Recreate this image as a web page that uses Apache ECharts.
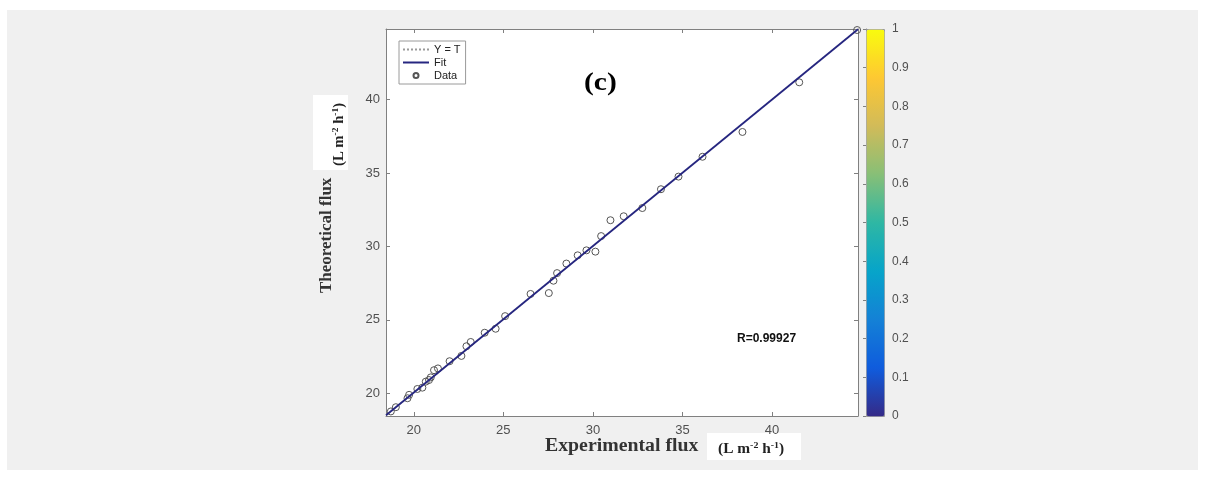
<!DOCTYPE html>
<html>
<head>
<meta charset="utf-8">
<script src="https://cdn.jsdelivr.net/npm/echarts@6/dist/echarts.min.js"></script>
<style>
  html, body { margin: 0; padding: 0; background: #ffffff; }
  #panel { position: absolute; left: 7px; top: 10px; width: 1191px; height: 460px; background: #f0f0f0; }
  #chart { position: absolute; left: 0; top: 0; width: 1206px; height: 477px; }
</style>
</head>
<body>
<div id="panel"></div>
<div id="chart"></div>
<script>
// measured flux values (L m-2 h-1)
const expFlux = [18.44, 18.72, 19.0, 19.65, 19.74, 20.2, 20.48, 20.67, 20.85, 20.95, 21.13, 21.35,
  22.0, 22.66, 22.94, 23.18, 23.96, 24.57, 25.1, 26.52, 27.54, 27.8, 28.0, 28.52, 29.15, 29.64,
  30.14, 30.46, 30.98, 31.72, 32.76, 33.8, 34.78, 36.12, 38.35, 41.52, 44.75];
const theoFlux = [18.53, 18.76, 19.05, 19.66, 19.89, 20.29, 20.38, 20.79, 20.9, 21.08, 21.57, 21.69,
  22.18, 22.54, 23.2, 23.49, 24.12, 24.39, 25.25, 26.76, 26.82, 27.66, 28.18, 28.83, 29.39, 29.73,
  29.64, 30.7, 31.78, 32.05, 32.61, 33.89, 34.75, 36.1, 37.79, 41.17, 44.73];

// Y = T reference and fitted line end points
const identX = [18.45, 44.8];
const identY = [18.45, 44.8];
const fitX = [18.45, 44.8];
const fitY = [18.5, 44.78];

const fluxTicks = [20, 25, 30, 35, 40];
const axMin = 18.45, axMax = 44.8;

const parula = ['#352a87', '#0f5cdd', '#1481d6', '#06a4ca', '#2eb7a4', '#87bf77', '#d1bb59', '#fec832', '#f9fb0e'];

const chart = echarts.init(document.getElementById('chart'), null, { renderer: 'canvas' });

const tickFont = { color: '#505050', fontSize: 13, fontFamily: 'Liberation Sans' };
const axisGray = '#808080';
const unitRich = { s: { fontSize: 9, fontWeight: 'bold', fontFamily: 'Liberation Serif', verticalAlign: 'top', padding: [0, 0, 7, 0] } };

function fluxAxis(pos, showLabel) {
  return {
    type: 'value', gridIndex: 0, position: pos, min: axMin, max: axMax,
    splitLine: { show: false },
    axisLine: { show: true, onZero: false, lineStyle: { color: axisGray, width: 1 } },
    axisTick: { show: true, inside: true, length: 4, customValues: fluxTicks, lineStyle: { color: axisGray } },
    axisLabel: Object.assign({ show: showLabel, customValues: fluxTicks, margin: pos === 'left' ? 6 : 8 }, tickFont)
  };
}

const option = {
  backgroundColor: 'transparent',
  animation: false,
  grid: [
    { left: 386, right: 348, top: 29, bottom: 61, show: true, backgroundColor: '#ffffff', borderWidth: 0 },
    { left: 866, width: 18, top: 29, height: 387, show: false }
  ],
  xAxis: [
    fluxAxis('bottom', true),
    fluxAxis('top', false),
    { type: 'value', gridIndex: 1, show: false, min: 0, max: 1 }
  ],
  yAxis: [
    fluxAxis('left', true),
    fluxAxis('right', false),
    {
      type: 'value', gridIndex: 1, position: 'right', min: 0, max: 1, interval: 0.1,
      splitLine: { show: false },
      axisLine: { show: true, lineStyle: { color: axisGray } },
      axisTick: { show: true, inside: true, length: 3, lineStyle: { color: axisGray } },
      axisLabel: Object.assign({}, tickFont, { margin: 8, fontSize: 12, formatter: v => String(+v.toFixed(1)) })
    }
  ],
  visualMap: {
    type: 'continuous', seriesIndex: [], min: 0, max: 1,
    left: 866, top: 29, itemWidth: 18, itemHeight: 387,
    padding: 0, calculable: false, showLabel: false, text: null,
    borderColor: '#9a9a9a', borderWidth: 1,
    inRange: { color: parula }
  },
  legend: {
    orient: 'vertical', left: 399, top: 41,
    data: ['Y = T', 'Fit', 'Data'],
    backgroundColor: '#ffffff', borderColor: '#9a9a9a', borderWidth: 1,
    padding: [3, 5, 3, 3], itemGap: 2, itemWidth: 26, itemHeight: 5,
    textStyle: { fontSize: 11, color: '#222', fontFamily: 'Liberation Sans' }
  },
  graphic: [
    { type: 'text', x: 584, y: 71, scaleX: 1.18, style: { text: '(c)', font: 'bold 25px "Liberation Serif"', fill: '#000' } },
    { type: 'text', left: 737, top: 333, style: { text: 'R=0.99927', font: 'bold 12px "Liberation Sans"', fill: '#111' } },
    { type: 'text', x: 545, y: 437, scaleX: 1.1, style: { text: 'Experimental flux', font: 'bold 18px "Liberation Serif"', fill: '#333' } },
    { type: 'rect', shape: { x: 707, y: 433, width: 94, height: 27 }, style: { fill: '#ffffff' } },
    {
      type: 'text', x: 718, y: 441, scaleX: 1.1,
      style: { text: '(L m{s|-2} h{s|-1})', font: 'bold 14px "Liberation Serif"', fill: '#222', rich: unitRich }
    },
    {
      type: 'text', x: 318, y: 293, rotation: Math.PI / 2,
      style: { text: 'Theoretical flux', font: 'bold 17px "Liberation Serif"', fill: '#333' }
    },
    { type: 'rect', shape: { x: 313, y: 95, width: 35, height: 75 }, style: { fill: '#ffffff' } },
    {
      type: 'text', x: 331, y: 166, rotation: Math.PI / 2, scaleX: 1.05,
      style: { text: '(L m{s|-2} h{s|-1})', font: 'bold 14px "Liberation Serif"', fill: '#222', rich: unitRich }
    }
  ],
  series: [
    {
      name: 'Y = T', type: 'line', xAxisIndex: 0, yAxisIndex: 0, symbol: 'none',
      data: identX.map((x, i) => [x, identY[i]]),
      lineStyle: { color: '#9a9a9a', width: 1, type: 'dotted' },
      itemStyle: { color: 'rgba(0,0,0,0)', borderWidth: 0 }, z: 4
    },
    {
      name: 'Fit', type: 'line', xAxisIndex: 0, yAxisIndex: 0, symbol: 'none',
      data: fitX.map((x, i) => [x, fitY[i]]),
      lineStyle: { color: '#262680', width: 1.8 },
      itemStyle: { color: 'rgba(0,0,0,0)', borderWidth: 0 }, z: 5
    },
    {
      name: 'Data', type: 'scatter', xAxisIndex: 0, yAxisIndex: 0,
      symbol: 'circle', symbolSize: 7,
      data: expFlux.map((x, i) => [x, theoFlux[i]]),
      itemStyle: { color: 'rgba(0,0,0,0)', borderColor: '#555', borderWidth: 1, opacity: 1 }, z: 3
    }
  ]
};

chart.setOption(option);
</script>
</body>
</html>
